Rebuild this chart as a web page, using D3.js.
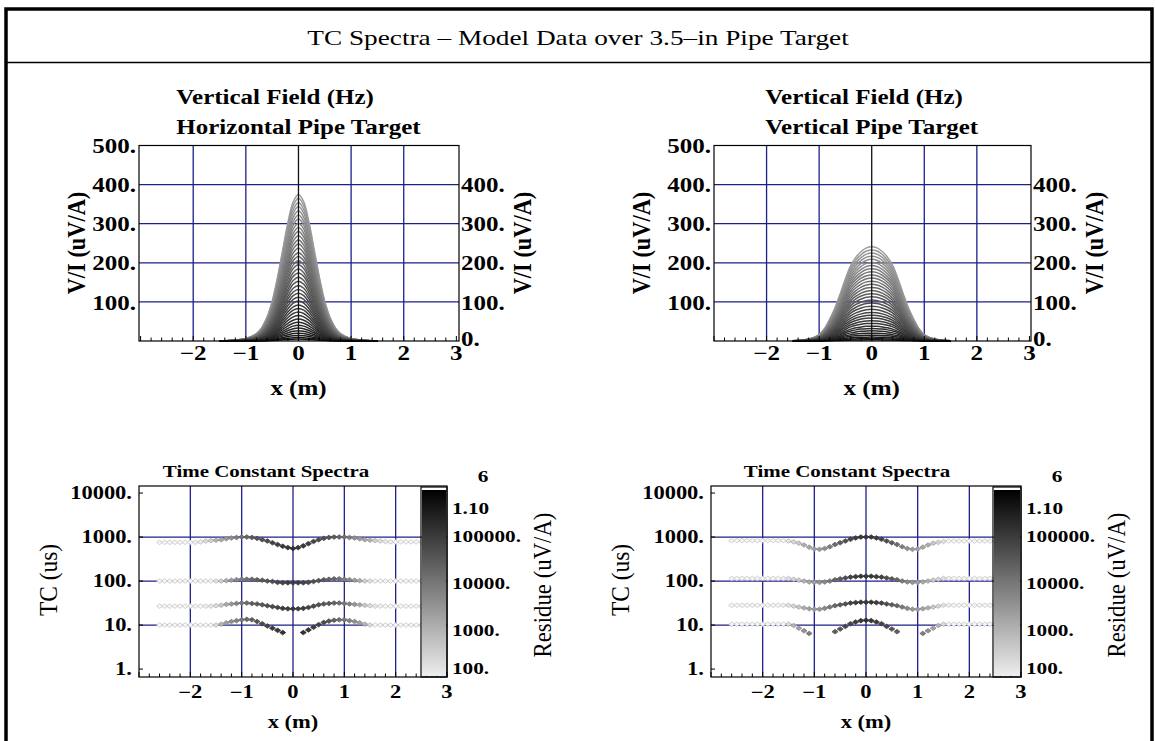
<!DOCTYPE html>
<html><head><meta charset="utf-8">
<script src="https://cdn.jsdelivr.net/npm/d3@7"></script>
<style>body{margin:0;background:#fff}svg{display:block}</style>
</head><body>
<svg id="c" width="1155" height="741"></svg>
<script>
// ---------------- DATA ----------------
const chartTitle = "TC Spectra \u2013 Model Data over 3.5\u2013in Pipe Target";
const panelTitlesTop = [["Vertical Field (Hz)", "Horizontal Pipe Target"], ["Vertical Field (Hz)", "Vertical Pipe Target"]];
const panelTitleBottom = "Time Constant Spectra";
const fieldYLabel = "V/I (uV/A)";
const tcYLabel = "TC (us)";
const residueLabel = "Residue (uV/A)";
const xLabel = "x (m)";
const xTickValues = [-2, -1, 0, 1, 2, 3];
const fieldTicksLeft = [100, 200, 300, 400, 500];
const fieldTicksRight = [0, 100, 200, 300, 400];
const tcTicks = [1, 10, 100, 1000, 10000];
const tcGrid = [10, 100, 1000];
const residueTicks = [100, 1000, 10000, 100000, 1100000];

// profile x positions (m) for the field curves
const fieldX = [-1.5,-1.4,-1.3,-1.2,-1.1,-1.0,-0.9,-0.8,-0.7,-0.6,-0.5,-0.4,-0.3,-0.2,-0.1,0,0.1,0.2,0.3,0.4,0.5,0.6,0.7,0.8,0.9,1.0,1.1,1.2,1.3,1.4,1.5];
// normalised anomaly shapes
const shapeHoriz = [0.001,0.002,0.004,0.007,0.011,0.018,0.03,0.05,0.09,0.16,0.27,0.43,0.62,0.81,0.95,1.0,0.95,0.81,0.62,0.43,0.27,0.16,0.09,0.05,0.03,0.018,0.011,0.007,0.004,0.002,0.001];
const shapeVert = [0.003,0.006,0.012,0.022,0.038,0.068,0.13,0.23,0.35,0.5,0.66,0.8,0.89,0.95,0.988,1.0,0.988,0.95,0.89,0.8,0.66,0.5,0.35,0.23,0.13,0.068,0.038,0.022,0.012,0.006,0.003];
// peak amplitude (uV/A) for each time gate
const peaksHoriz = [375,365,354,344,333,322,312,301,290,280,269,258,248,237,226,216,205,195,184,174,163,153,142,132,122,112,102,92,83,74,65,56,48,40,33,26,20,14,9,5];
const peaksVert = [241,233,225,217,209,201,193,185,177,169,161,153,145,137,129,121,113,105,97,89,81,73,66,59,52,45,38,32,26,20,15,10,6,3];

// station positions (m) for the TC spectra
const tcX = [-2.6,-2.5,-2.4,-2.3,-2.2,-2.1,-2.0,-1.9,-1.8,-1.7,-1.6,-1.5,-1.4,-1.3,-1.2,-1.1,-1.0,-0.9,-0.8,-0.7,-0.6,-0.5,-0.4,-0.3,-0.2,-0.1,0,0.1,0.2,0.3,0.4,0.5,0.6,0.7,0.8,0.9,1.0,1.1,1.2,1.3,1.4,1.5,1.6,1.7,1.8,1.9,2.0,2.1,2.2,2.3,2.4,2.5,2.6];

// Horizontal pipe: log10 TC (us) of four spectral components, and log10 residue (uV/A)
const tcH1 = [2.88,2.88,2.88,2.88,2.88,2.88,2.88,2.88,2.89,2.91,2.92,2.93,2.94,2.96,2.98,2.99,3.0,3.0,2.99,2.97,2.94,2.91,2.87,2.83,2.79,2.76,2.74,2.76,2.80,2.85,2.90,2.94,2.97,2.99,3.0,3.0,3.0,2.99,2.98,2.96,2.94,2.93,2.92,2.91,2.90,2.89,2.89,2.89,2.89,2.89,2.89,2.89,2.89];
const resH1 = [2.2,2.2,2.2,2.2,2.2,2.2,2.2,2.3,2.4,2.6,2.8,3.0,3.2,3.4,3.6,3.9,4.1,4.3,4.5,4.6,4.7,4.8,4.9,5.0,5.1,5.1,5.2,5.1,5.1,5.0,4.9,4.8,4.7,4.6,4.5,4.3,4.1,3.9,3.6,3.4,3.2,3.0,2.8,2.6,2.4,2.3,2.2,2.2,2.2,2.2,2.2,2.2,2.2];
const tcH2 = [2.0,2.0,2.0,2.0,2.0,2.0,2.0,2.0,2.0,2.0,2.0,2.0,2.0,2.01,2.02,2.03,2.04,2.04,2.04,2.03,2.02,2.0,1.99,1.97,1.96,1.96,1.96,1.96,1.96,1.97,1.99,2.01,2.03,2.04,2.05,2.05,2.04,2.03,2.02,2.01,2.0,2.0,2.0,2.0,2.0,2.0,2.0,2.0,2.0,2.0,2.0,2.0,2.0];
const resH2 = [2.2,2.2,2.2,2.2,2.2,2.2,2.2,2.2,2.2,2.2,2.2,2.5,2.8,3.1,3.4,3.7,3.9,4.1,4.3,4.4,4.5,4.6,4.7,4.8,4.9,5.0,5.0,5.0,4.9,4.8,4.7,4.6,4.5,4.4,4.3,4.1,3.9,3.7,3.4,3.1,2.8,2.5,2.2,2.2,2.2,2.2,2.2,2.2,2.2,2.2,2.2,2.2,2.2];
const tcH3 = [1.43,1.43,1.43,1.43,1.43,1.43,1.43,1.43,1.43,1.43,1.43,1.44,1.45,1.47,1.48,1.49,1.5,1.5,1.49,1.48,1.46,1.44,1.42,1.40,1.38,1.37,1.37,1.37,1.38,1.40,1.43,1.46,1.48,1.49,1.5,1.5,1.49,1.48,1.47,1.46,1.45,1.44,1.43,1.43,1.43,1.43,1.43,1.43,1.43,1.43,1.43,1.43,1.43];
const resH3 = [2.2,2.2,2.2,2.2,2.2,2.2,2.2,2.2,2.2,2.3,2.4,2.6,2.9,3.2,3.5,3.8,4.0,4.2,4.4,4.5,4.6,4.7,4.8,4.9,5.0,5.0,5.1,5.0,5.0,4.9,4.8,4.7,4.6,4.5,4.4,4.2,4.0,3.8,3.5,3.2,2.9,2.6,2.4,2.3,2.2,2.2,2.2,2.2,2.2,2.2,2.2,2.2,2.2];
const tcH4 = [1.0,1.0,1.0,1.0,1.0,1.0,1.0,1.0,1.0,1.0,1.0,1.0,1.02,1.05,1.08,1.1,1.12,1.13,1.12,1.08,1.03,0.98,0.93,0.88,0.83,null,null,null,0.83,0.89,0.95,1.01,1.06,1.09,1.11,1.12,1.12,1.1,1.08,1.05,1.02,1.0,1.0,1.0,1.0,1.0,1.0,1.0,1.0,1.0,1.0,1.0,1.0];
const resH4 = [2.2,2.2,2.2,2.2,2.2,2.2,2.2,2.2,2.2,2.2,2.2,2.6,3.0,3.3,3.6,3.8,4.0,4.2,4.4,4.6,4.8,4.9,5.0,5.1,5.2,null,null,null,5.2,5.1,5.0,4.9,4.8,4.6,4.4,4.2,4.0,3.8,3.6,3.3,3.0,2.6,2.2,2.2,2.2,2.2,2.2,2.2,2.2,2.2,2.2,2.2,2.2];

// Vertical pipe
const tcV1 = [2.92,2.92,2.92,2.92,2.92,2.92,2.92,2.92,2.92,2.92,2.92,2.91,2.89,2.86,2.82,2.77,2.73,2.72,2.74,2.78,2.83,2.87,2.91,2.95,2.98,3.0,3.0,3.0,2.98,2.95,2.91,2.87,2.83,2.78,2.74,2.72,2.73,2.77,2.82,2.86,2.88,2.9,2.91,2.91,2.91,2.91,2.91,2.91,2.91,2.91,2.91,2.91,2.91];
const resV1 = [2.2,2.2,2.2,2.2,2.2,2.2,2.2,2.2,2.2,2.2,2.2,2.5,2.7,2.9,3.1,3.2,3.3,3.4,3.6,3.9,4.2,4.5,4.7,4.9,5.0,5.1,5.1,5.1,5.0,4.9,4.7,4.5,4.2,3.9,3.6,3.4,3.3,3.2,3.1,2.9,2.7,2.5,2.2,2.2,2.2,2.2,2.2,2.2,2.2,2.2,2.2,2.2,2.2];
const tcV2 = [2.06,2.06,2.06,2.06,2.06,2.06,2.06,2.06,2.06,2.06,2.06,2.06,2.04,2.02,2.0,1.98,1.97,1.97,1.98,2.0,2.03,2.05,2.07,2.09,2.1,2.11,2.11,2.11,2.1,2.09,2.07,2.05,2.03,2.0,1.98,1.97,1.97,1.98,2.0,2.02,2.04,2.06,2.06,2.06,2.06,2.06,2.06,2.06,2.06,2.06,2.06,2.06,2.06];
const resV2 = [2.2,2.2,2.2,2.2,2.2,2.2,2.2,2.2,2.2,2.2,2.3,2.5,2.7,2.9,3.1,3.2,3.3,3.5,3.7,4.0,4.3,4.5,4.7,4.9,5.0,5.1,5.1,5.1,5.0,4.9,4.7,4.5,4.3,4.0,3.7,3.5,3.3,3.2,3.1,2.9,2.7,2.5,2.3,2.2,2.2,2.2,2.2,2.2,2.2,2.2,2.2,2.2,2.2];
const tcV3 = [1.45,1.45,1.45,1.45,1.45,1.45,1.45,1.45,1.45,1.45,1.45,1.45,1.43,1.41,1.39,1.37,1.36,1.36,1.38,1.41,1.44,1.46,1.48,1.5,1.51,1.52,1.52,1.52,1.51,1.5,1.48,1.46,1.44,1.41,1.38,1.36,1.36,1.37,1.39,1.41,1.43,1.45,1.45,1.45,1.45,1.45,1.45,1.45,1.45,1.45,1.45,1.45,1.45];
const resV3 = [2.2,2.2,2.2,2.2,2.2,2.2,2.2,2.2,2.2,2.2,2.3,2.5,2.7,2.9,3.1,3.3,3.4,3.5,3.7,4.0,4.3,4.5,4.7,4.9,5.0,5.1,5.1,5.1,5.0,4.9,4.7,4.5,4.3,4.0,3.7,3.5,3.4,3.3,3.1,2.9,2.7,2.5,2.3,2.2,2.2,2.2,2.2,2.2,2.2,2.2,2.2,2.2,2.2];
const tcV4 = [1.02,1.02,1.02,1.02,1.02,1.02,1.02,1.02,1.02,1.02,1.02,1.02,0.99,0.93,0.87,0.81,null,null,null,null,0.85,0.91,0.97,1.03,1.07,1.1,1.11,1.1,1.07,1.03,0.97,0.91,0.85,null,null,null,null,0.81,0.87,0.93,0.99,1.02,1.02,1.02,1.02,1.02,1.02,1.02,1.02,1.02,1.02,1.02,1.02];
const resV4 = [2.2,2.2,2.2,2.2,2.2,2.2,2.2,2.2,2.2,2.2,2.2,2.6,3.0,3.3,3.6,3.9,null,null,null,null,4.4,4.6,4.8,4.9,5.0,5.1,5.2,5.1,5.0,4.9,4.8,4.6,4.4,null,null,null,null,3.9,3.6,3.3,3.0,2.6,2.2,2.2,2.2,2.2,2.2,2.2,2.2,2.2,2.2,2.2,2.2];

// ---------------- DRAWING ----------------
const svg = d3.select("#c");
const FONT = "'Liberation Serif','Times New Roman',Times,serif";
const GRID = "#1f1f8a";
const SX = 1.25;

function txt(g, x, y, s, o = {}) {
  const tr = o.rot
    ? `translate(${x},${y}) rotate(-90) scale(${o.sa || 1.15},${o.sc || 1.25})`
    : `translate(${x},${y}) scale(${o.sx || SX},1)`;
  return g.append("text").attr("transform", tr)
    .attr("font-family", FONT).attr("font-size", o.size || 16)
    .attr("font-weight", o.bold ? "bold" : "normal")
    .attr("text-anchor", o.anchor || "middle")
    .attr("dominant-baseline", "central")
    .attr("fill", "#000").text(s);
}
const numFmt = v => (v < 0 ? "\u2212" + Math.abs(v) : String(v));

// outer frame
svg.append("rect").attr("x", 6).attr("y", 9).attr("width", 1146).attr("height", 740)
  .attr("fill", "none").attr("stroke", "#000").attr("stroke-width", 3.5);
svg.append("line").attr("x1", 6).attr("x2", 1152).attr("y1", 62.5).attr("y2", 62.5)
  .attr("stroke", "#000").attr("stroke-width", 1.6);
txt(svg, 578, 37, chartTitle, { size: 22, sx: 1.24 });

const grayOf = (lr) => {
  const lv = Math.max(0, Math.min(0.93, 0.93 * (1 - (lr - 2) / 4.04)));
  const c = Math.round(lv * 255);
  return d3.rgb(c, c, c);
};

function bottomTicks(g, x, y0, y1) {
  const minor = d3.range(-30, 31, 2).map(v => v / 10);
  g.selectAll(null).data(minor).enter().append("line")
    .attr("x1", d => x(d)).attr("x2", d => x(d))
    .attr("y1", y1).attr("y2", d => y1 - (Number.isInteger(d) ? 5 : 3.5))
    .attr("stroke", "#000").attr("stroke-width", 1);
}

function fieldPanel(cfg) {
  const g = svg.append("g");
  const x = d3.scaleLinear().domain(cfg.xd).range([cfg.x0, cfg.x1]);
  const y = d3.scaleLinear().domain([0, 500]).range([cfg.y1, cfg.y0]);
  // grid
  g.selectAll(null).data([-2, -1, 1, 2]).enter().append("line")
    .attr("x1", d => x(d)).attr("x2", d => x(d)).attr("y1", cfg.y0).attr("y2", cfg.y1)
    .attr("stroke", GRID).attr("stroke-width", 1.3);
  g.selectAll(null).data([100, 200, 300, 400]).enter().append("line")
    .attr("x1", cfg.x0).attr("x2", cfg.x1).attr("y1", d => y(d)).attr("y2", d => y(d))
    .attr("stroke", GRID).attr("stroke-width", 1.3);
  // curves
  const line = d3.line().x(d => x(d[0])).y(d => y(d[1])).curve(d3.curveCatmullRom);
  const col = d3.interpolateRgb("#9c9c9c", "#151515");
  cfg.peaks.forEach((p, i) => {
    const pts = fieldX.map((xx, j) => [xx, p * cfg.shape[j]]);
    g.append("path").attr("d", line(pts)).attr("fill", "none")
      .attr("stroke", col(i / (cfg.peaks.length - 1))).attr("stroke-width", 1.5);
  });
  // x=0 line
  g.append("line").attr("x1", x(0)).attr("x2", x(0)).attr("y1", cfg.y0).attr("y2", cfg.y1)
    .attr("stroke", "#111").attr("stroke-width", 1.3);
  // frame
  g.append("rect").attr("x", cfg.x0).attr("y", cfg.y0).attr("width", cfg.x1 - cfg.x0)
    .attr("height", cfg.y1 - cfg.y0).attr("fill", "none").attr("stroke", "#000").attr("stroke-width", 1.2);
  bottomTicks(g, x, cfg.y0, cfg.y1);
  // tick labels
  fieldTicksLeft.forEach(v => txt(g, cfg.x0 - 3, y(v) + 1, v + ".", { size: 20, bold: true, anchor: "end" }));
  fieldTicksRight.forEach(v => txt(g, cfg.x1 + 2, y(v) + (v === 0 ? -2 : 1), v + ".", { size: 20, bold: true, anchor: "start" }));
  xTickValues.forEach(v => txt(g, x(v), cfg.y1 + 12, numFmt(v), { size: 20, bold: true }));
  txt(g, x(0), cfg.y1 + 47, xLabel, { size: 20, bold: true });
  txt(g, cfg.ylx, 243, fieldYLabel, { size: 20, bold: true, rot: true, sa: 1.12 });
  txt(g, cfg.x1 + 64, 243, fieldYLabel, { size: 20, bold: true, rot: true, sa: 1.12 });
  // titles (left aligned block)
  const t2 = txt(g, x(0), 127, cfg.titles[1], { size: 20, bold: true });
  const w2 = t2.node().getComputedTextLength() * SX;
  txt(g, x(0) - w2 / 2, 97, cfg.titles[0], { size: 20, bold: true, anchor: "start" });
}

function tcPanel(cfg) {
  const g = svg.append("g");
  const x = d3.scaleLinear().domain([-3, 3]).range([cfg.x0, cfg.x1]);
  const y = d3.scaleLog().domain([Math.pow(10, -0.18), Math.pow(10, 4.16)]).range([cfg.y1, cfg.y0]);
  g.selectAll(null).data([-2, -1, 0, 1, 2]).enter().append("line")
    .attr("x1", d => x(d)).attr("x2", d => x(d)).attr("y1", cfg.y0).attr("y2", cfg.y1)
    .attr("stroke", GRID).attr("stroke-width", 1.3);
  g.selectAll(null).data(tcGrid).enter().append("line")
    .attr("x1", cfg.x0).attr("x2", cfg.x1).attr("y1", d => y(d)).attr("y2", d => y(d))
    .attr("stroke", GRID).attr("stroke-width", 1.3);
  // spectra points
  cfg.tracks.forEach(([tc, rs]) => {
    const pts = tcX.map((xx, i) => ({ x: xx, t: tc[i], r: rs[i] })).filter(d => d.t !== null);
    g.selectAll(null).data(pts).enter().append("path")
      .attr("d", d => {
        const cx = x(d.x), cy = y(Math.pow(10, d.t));
        return `M${cx - 3},${cy}L${cx},${cy - 2.3}L${cx + 3},${cy}L${cx},${cy + 2.3}Z`;
      })
      .attr("fill", d => { const c = grayOf(d.r); return d.r < 3 ? c.brighter(0.25) : c; })
      .attr("stroke", d => grayOf(d.r).darker(0.35)).attr("stroke-width", 0.8);
  });
  // frame
  g.append("rect").attr("x", cfg.x0).attr("y", cfg.y0).attr("width", cfg.x1 - cfg.x0)
    .attr("height", cfg.y1 - cfg.y0).attr("fill", "none").attr("stroke", "#000").attr("stroke-width", 1.2);
  bottomTicks(g, x, cfg.y0, cfg.y1);
  tcTicks.forEach(v => g.append("line").attr("x1", cfg.x0).attr("x2", cfg.x0 + 4)
    .attr("y1", y(v)).attr("y2", y(v)).attr("stroke", "#000"));
  // colorbar
  const cb = d3.scaleLog().domain([100, 1100000]).range([cfg.y1, cfg.y0 + 1]);
  g.append("rect").attr("x", cfg.cb0 + 1).attr("y", cfg.y0 + 4).attr("width", cfg.x1 - cfg.cb0 - 2)
    .attr("height", cfg.y1 - cfg.y0 - 5).attr("fill", "url(#cbgrad)");
  g.append("rect").attr("x", cfg.cb0).attr("y", cfg.y0 + 1).attr("width", cfg.x1 - cfg.cb0)
    .attr("height", cfg.y1 - cfg.y0 - 1).attr("fill", "none").attr("stroke", "#000").attr("stroke-width", 1.2);
  residueTicks.forEach(v => {
    const yy = Math.max(cfg.y0 + 22, Math.min(cfg.y1 - 9, cb(v)));
    const lab = v > 1000000 ? "1.10" : v + ".";
    txt(g, cfg.x1 + 5, yy, lab, { size: 17, bold: true, anchor: "start" });
    if (v > 1000000) txt(g, cfg.x1 + 36, yy - 32, "6", { size: 17, bold: true });
  });
  txt(g, cfg.x1 + 96, 585, residueLabel, { size: 20, rot: true, sa: 1.14 });
  // axis labels
  tcTicks.forEach(v => txt(g, cfg.x0 - 7, y(v), v + ".", { size: 18, bold: true, anchor: "end" }));
  xTickValues.forEach(v => txt(g, x(v), cfg.y1 + 15, numFmt(v), { size: 18, bold: true }));
  txt(g, x(0), cfg.y1 + 45, xLabel, { size: 18, bold: true });
  txt(g, cfg.ylx, 580, tcYLabel, { size: 20, rot: true, sa: 1.17 });
  txt(g, cfg.tx, 471, panelTitleBottom, { size: 17, bold: true, sx: 1.23 });
}

// gradient for colour bars
const defs = svg.append("defs");
const grad = defs.append("linearGradient").attr("id", "cbgrad").attr("x1", 0).attr("x2", 0).attr("y1", 0).attr("y2", 1);
d3.range(0, 1.0001, 0.1).forEach(t => grad.append("stop").attr("offset", t)
  .attr("stop-color", grayOf(6.04 - t * 4.04)));

fieldPanel({ x0: 139, x1: 459, y0: 145.5, y1: 341, xd: [-3.03, 3.05], ylx: 77,
  shape: shapeHoriz, peaks: peaksHoriz, titles: panelTitlesTop[0] });
fieldPanel({ x0: 714, x1: 1031, y0: 145.5, y1: 341, xd: [-3.0, 3.03], ylx: 642,
  shape: shapeVert, peaks: peaksVert, titles: panelTitlesTop[1] });
tcPanel({ x0: 139, x1: 447, y0: 486, y1: 677, cb0: 421, ylx: 48, tx: 266,
  tracks: [[tcH1, resH1], [tcH2, resH2], [tcH3, resH3], [tcH4, resH4]] });
tcPanel({ x0: 711, x1: 1021, y0: 486, y1: 677, cb0: 993, ylx: 620, tx: 847,
  tracks: [[tcV1, resV1], [tcV2, resV2], [tcV3, resV3], [tcV4, resV4]] });
</script>
</body></html>
